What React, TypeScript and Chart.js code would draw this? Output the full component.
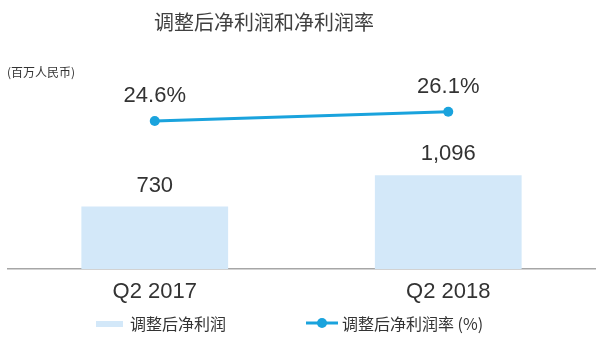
import React, { useEffect, useRef } from "react";
import { Chart, registerables } from "chart.js";

Chart.register(...registerables);

const titleText = "调整后净利润和净利润率";
const unitText = "(百万人民币)";
const categories = ["Q2 2017", "Q2 2018"];
const profitValues = [730, 1096];
const profitLabels = ["730", "1,096"];
const marginValues = [24.6, 26.1];
const marginLabels = ["24.6%", "26.1%"];
const seriesNames = ["调整后净利润", "调整后净利润率 (%)"];

const BAR_COLOR = "#d3e8f9";
const LINE_COLOR = "#1aa3dd";
const TEXT_COLOR = "#333333";
const LATIN = "'Liberation Sans', Arial, 'Noto Sans CJK SC', sans-serif";
const CJK = "'Noto Sans CJK SC', 'Liberation Sans', sans-serif";

const overlay = {
  id: "overlay",
  afterDraw(chart: any) {
    const ctx = chart.ctx;
    ctx.save();
    // title
    ctx.fillStyle = "#404040";
    ctx.font = `20px ${CJK}`;
    ctx.textAlign = "center";
    ctx.textBaseline = "middle";
    ctx.fillText(titleText, 264, 22);
    // unit
    ctx.font = `12px ${CJK}`;
    ctx.textAlign = "left";
    ctx.fillStyle = TEXT_COLOR;
    ctx.fillText(unitText, 7, 72);

    // value labels
    ctx.font = `22px ${LATIN}`;
    ctx.textAlign = "center";
    ctx.textBaseline = "middle";
    ctx.fillStyle = TEXT_COLOR;
    const barMeta = chart.getDatasetMeta(0);
    barMeta.data.forEach((el: any, i: number) => {
      ctx.fillText(profitLabels[i], el.x, el.y - 21);
    });
    const lineMeta = chart.getDatasetMeta(1);
    lineMeta.data.forEach((el: any, i: number) => {
      ctx.fillText(marginLabels[i], el.x, el.y - 25);
    });

    // legend
    ctx.fillStyle = BAR_COLOR;
    ctx.fillRect(96, 321, 27, 6);
    ctx.fillStyle = TEXT_COLOR;
    ctx.font = `16px ${CJK}`;
    ctx.textAlign = "left";
    ctx.textBaseline = "middle";
    ctx.fillText(seriesNames[0], 130, 324);

    ctx.strokeStyle = LINE_COLOR;
    ctx.lineWidth = 3;
    ctx.beginPath();
    ctx.moveTo(306, 323);
    ctx.lineTo(338, 323);
    ctx.stroke();
    ctx.fillStyle = LINE_COLOR;
    ctx.beginPath();
    ctx.arc(322, 323, 5, 0, Math.PI * 2);
    ctx.fill();
    ctx.fillStyle = TEXT_COLOR;
    ctx.fillText(seriesNames[1], 342, 324);
    ctx.restore();
  },
};

export default function App() {
  const ref = useRef<HTMLCanvasElement | null>(null);
  useEffect(() => {
    if (!ref.current) return;
    const chart = new Chart(ref.current, {
      type: "bar",
      data: {
        labels: categories,
        datasets: [
          {
            type: "bar",
            label: seriesNames[0],
            data: profitValues,
            backgroundColor: BAR_COLOR,
            borderWidth: 0,
            barPercentage: 1,
            categoryPercentage: 0.5,
            yAxisID: "y",
            order: 2,
          },
          {
            type: "line",
            label: seriesNames[1],
            data: marginValues,
            borderColor: LINE_COLOR,
            backgroundColor: LINE_COLOR,
            borderWidth: 3,
            pointRadius: 5,
            pointBackgroundColor: LINE_COLOR,
            pointBorderWidth: 0,
            yAxisID: "y1",
            order: 1,
          } as any,
        ],
      },
      options: {
        responsive: false,
        animation: false,
        layout: { padding: { top: 60, left: 8, right: 0, bottom: 0 } },
        plugins: {
          legend: { display: false },
          title: { display: false },
          tooltip: { enabled: false },
        },
        scales: {
          x: {
            grid: { display: false, drawTicks: false },
            border: { display: true, color: "#a6a6a6", width: 1.5 },
            ticks: {
              color: TEXT_COLOR,
              font: { family: LATIN, size: 22 },
              padding: 10,
            },
            afterFit(scale: any) {
              scale.height = 75;
            },
          },
          y: { display: false, min: 0, max: 2444 },
          y1: { display: false, min: 0.73, max: 34.44, position: "right" },
        },
      },
      plugins: [overlay],
    });
    return () => chart.destroy();
  }, []);
  return (
    <div style={{ position: "fixed", left: 0, top: 0, width: 600, height: 344, background: "#fff" }}>
      <canvas ref={ref} width={600} height={344} />
    </div>
  );
}
